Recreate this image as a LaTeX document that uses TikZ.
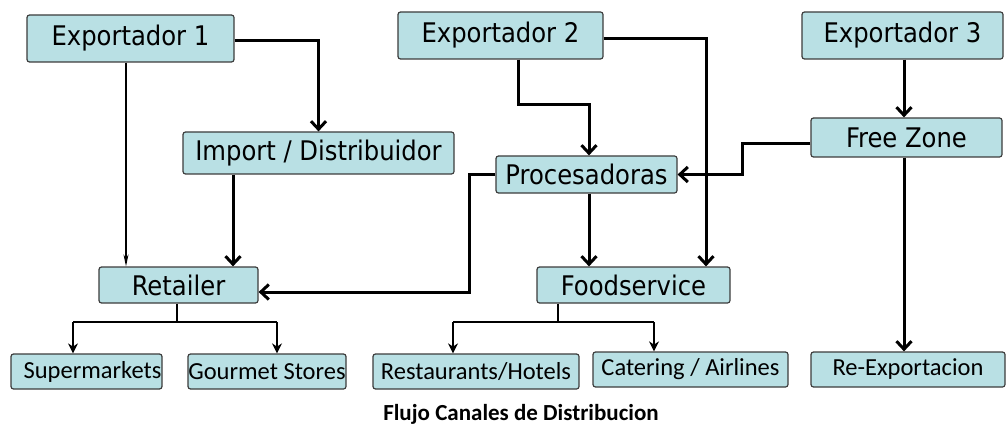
\documentclass[tikz,border=0pt]{standalone}
\usepackage{fontspec}
\setmainfont{DejaVu Sans Condensed}
\newfontfamily\smallfont{Carlito}
\usetikzlibrary{arrows.meta}

\definecolor{boxfill}{RGB}{185,224,228}
\definecolor{boxline}{RGB}{60,60,60}

\tikzset{
  box/.style={draw=boxline, line width=1.2pt, fill=boxfill, rounded corners=2.5pt,
    inner sep=0pt, font=\fontsize{27}{30}\selectfont, text=black},
  leaf/.style={box, font=\smallfont\fontsize{24.5}{28}\selectfont},
  flow/.style={line width=3pt, -{Straight Barb[length=8pt,width=15pt]}},
  slim/.style={line width=1.3pt, -{Stealth[length=12pt,width=5pt]}},
  branch/.style={line width=1.3pt},
  drop/.style={line width=2.2pt, -{Stealth[length=10pt,width=10pt]}},
}

\begin{document}
\begin{tikzpicture}[x=1pt, y=-1pt]
\useasboundingbox (0,0) rectangle (1007,425);

% sources
\node[box, minimum width=207pt, minimum height=47pt] (e1) at (130.5,38.5) {Exportador 1};
\node[box, minimum width=205pt, minimum height=47pt] (e2) at (500.5,35.5) {Exportador 2};
\node[box, minimum width=201pt, minimum height=47pt] (e3) at (902.5,35.5) {Exportador 3};

% intermediaries
\node[box, minimum width=271pt, minimum height=42pt] (imp) at (318.5,153) {Import / Distribuidor};
\node[box, minimum width=191pt, minimum height=39pt] (fz) at (906.5,137.5) {Free Zone};
\node[box, minimum width=181pt, minimum height=37pt] (proc) at (586.5,174.5) {Procesadoras};

% channels
\node[box, minimum width=159pt, minimum height=36pt] (ret) at (178.5,285) {Retailer};
\node[box, minimum width=193pt, minimum height=36pt] (food) at (633.5,285) {Foodservice};

% outlets
\node[leaf, minimum width=151pt, minimum height=35pt] (sup) at (86.5,371.5) {\hspace*{12pt}Supermarkets};
\node[leaf, minimum width=158pt, minimum height=35pt] (gour) at (267,371.5) {Gourmet Stores};
\node[leaf, minimum width=206pt, minimum height=35pt] (rest) at (476,371.5) {Restaurants/Hotels};
\node[leaf, minimum width=195pt, minimum height=35pt] (cat) at (690.5,369.5) {Catering / Airlines};
\node[leaf, minimum width=194pt, minimum height=35pt] (rex) at (908,369.5) {Re-Exportacion};

% caption
\node[font=\smallfont\bfseries\fontsize{23}{26}\selectfont] (cap) at (521,414) {Flujo Canales de Distribucion};

% Exportador 1
\draw[slim] (e1.south -| 126,0) -- (ret.north -| 126,0);
\draw[flow] ([yshift=-2pt]e1.east) -| (imp.north);
\draw[flow] (imp.south -| 233,0) -- (ret.north -| 233,0);

% Exportador 2
\coordinate (bend2) at (589,105);
\draw[flow] (e2.south -| 518,0) |- (bend2) -- (proc.north -| 589,0);
\draw[flow] ([yshift=-3pt]e2.east) -| (food.north -| 706,0);

% Exportador 3
\draw[flow] (e3.south -| 904,0) -- (fz.north -| 904,0);
\draw[flow] (fz.south -| 904,0) -- (rex.north -| 904,0);

% Free Zone to Procesadoras
\coordinate (bendfz) at (742,144);
\draw[flow] ([yshift=-6.5pt]fz.west) -- (bendfz) |- (proc.east);

% Procesadoras to Retailer and Foodservice
\coordinate (bendpr) at (469,174.5);
\draw[flow] (proc.west) -- (bendpr) |- ([yshift=-7pt]ret.east);
\draw[flow] (proc.south -| 589,0) -- (food.north -| 589,0);

% Retailer outlets
\coordinate (rsplit) at (177,322);
\coordinate (rleft) at (73,322);
\coordinate (rright) at (277,322);
\draw[branch] (ret.south -| rsplit) -- (rsplit);
\draw[branch] (rleft) -- (rright);
\draw[drop] (rleft) -- (sup.north -| rleft);
\draw[drop] (rright) -- (gour.north -| rright);

% Foodservice outlets
\coordinate (fsplit) at (558,322);
\coordinate (fleft) at (453,322);
\coordinate (fright) at (654,322);
\draw[branch] (food.south -| fsplit) -- (fsplit);
\draw[branch] (fleft) -- (fright);
\draw[drop] (fleft) -- (rest.north -| fleft);
\draw[drop] (fright) -- (cat.north -| fright);
\end{tikzpicture}
\end{document}
